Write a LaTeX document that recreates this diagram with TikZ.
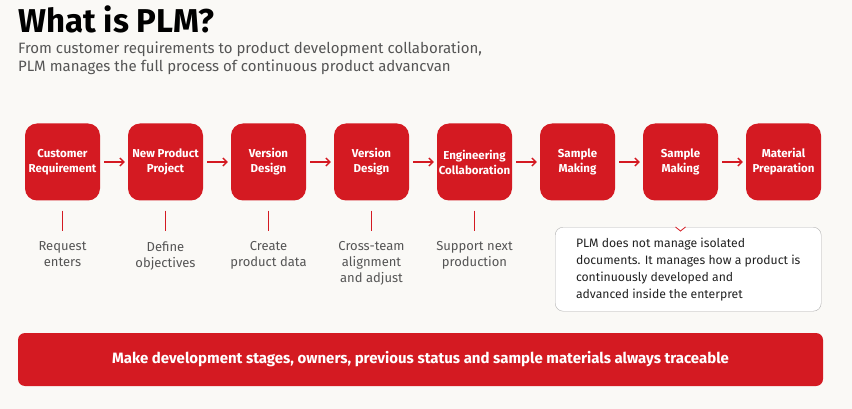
\documentclass[tikz,border=0pt]{standalone}
\usepackage{fontspec}
\setmainfont{Fira Sans}
\usetikzlibrary{positioning,arrows.meta}
\definecolor{PlmRed}{HTML}{D41A22}
\definecolor{HintClr}{HTML}{555555}
\definecolor{NoteClr}{HTML}{222222}
\definecolor{PageClr}{HTML}{FAF9F6}

\begin{document}
\begin{tikzpicture}[x=1pt,y=-1pt,
  stage/.style={fill=PlmRed,rounded corners=12pt,minimum width=75pt,minimum height=77pt,
    inner sep=0pt,text=white,align=center,font=\bfseries\fontsize{11.5}{15}\selectfont},
  flow/.style={PlmRed,line width=1.3pt,-{Straight Barb[length=4pt,width=8pt]},shorten <=4pt,shorten >=3pt},
  tick/.style={PlmRed,line width=1pt},
  hint/.style={text=HintClr,align=center,anchor=north,font=\fontsize{13}{16}\selectfont}]
\fill[PageClr] (0,0) rectangle (852,409);
\useasboundingbox (0,0) rectangle (852,409);

\node[anchor=base west,inner sep=0pt,font=\bfseries\fontsize{33}{36}\selectfont] (title) at (18,33) {What is PLM?};
\node[anchor=north west,inner sep=0pt,align=left,text=HintClr,font=\fontsize{15}{18}\selectfont] (sub) at (18,42)
  {From customer requirements to product development collaboration,\\PLM manages the full process of continuous product advancvan};

\node[stage] (s1) at (62.5,162) {Customer\\Requirement};
\node[stage,right=27.6pt of s1] (s2) {New Product\\Project};
\node[stage,right=27.6pt of s2] (s3) {Version\\Design};
\node[stage,right=27.6pt of s3] (s4) {Version\\Design};
\node[stage,right=27.6pt of s4] (s5) {Engineering\\Collaboration};
\node[stage,right=27.6pt of s5] (s6) {Sample\\Making};
\node[stage,right=27.6pt of s6] (s7) {Sample\\Making};
\node[stage,right=27.6pt of s7] (s8) {Material\\Preparation};

\draw[flow] (s1) -- (s2);
\draw[flow] (s2) -- (s3);
\draw[flow] (s3) -- (s4);
\draw[flow] (s4) -- (s5);
\draw[flow] (s5) -- (s6);
\draw[flow] (s6) -- (s7);
\draw[flow] (s7) -- (s8);

\draw[tick] ([yshift=-10pt]s1.south) -- ([yshift=-30pt]s1.south) node[hint,yshift=-7pt] (h1) {Request\\enters};
\draw[tick] ([yshift=-10pt]s2.south) -- ([yshift=-30pt]s2.south) node[hint,yshift=-7pt] (h2) {Define\\objectives};
\draw[tick] ([yshift=-10pt]s3.south) -- ([yshift=-30pt]s3.south) node[hint,yshift=-7pt] (h3) {Create\\product data};
\draw[tick] ([yshift=-10pt]s4.south) -- ([yshift=-30pt]s4.south) node[hint,yshift=-7pt] (h4) {Cross-team\\alignment\\and adjust};
\draw[tick] ([yshift=-10pt]s5.south) -- ([yshift=-30pt]s5.south) node[hint,yshift=-7pt] (h5) {Support next\\production};

\node[draw=gray!60,fill=white,rounded corners=8pt,minimum width=266pt,minimum height=84pt,
  inner xsep=20pt,align=left,text=NoteClr,font=\fontsize{12.2}{17}\selectfont,
  anchor=north west] (note) at (555,227)
  {PLM does not manage isolated\\documents. It manages how a product is\\continuously developed and\\advanced inside the enterpret};
\coordinate (tip) at ([yshift=-4pt]note.north -| s7);
\fill[white] ([xshift=-5pt]note.north -| s7) -- (tip) -- ([xshift=5pt]note.north -| s7) -- cycle;
\draw[PlmRed,line width=0.8pt] ([xshift=-5pt]note.north -| s7) -- (tip) -- ([xshift=5pt]note.north -| s7);

\node[fill=PlmRed,rounded corners=7pt,minimum width=805pt,minimum height=53pt,text=white,
  font=\bfseries\fontsize{15}{18}\selectfont] (bar) at (420.5,359.5)
  {Make development stages, owners, previous status and sample materials always traceable};
\end{tikzpicture}
\end{document}
